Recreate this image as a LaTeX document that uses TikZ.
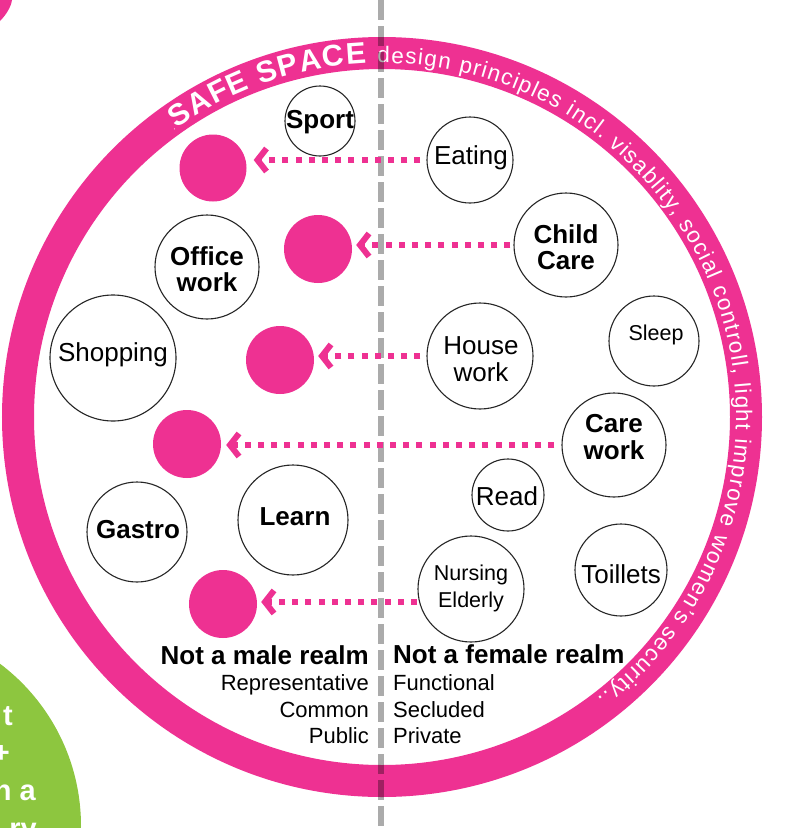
\documentclass[tikz,border=0pt]{standalone}
\usepackage{fontspec}
\setmainfont{Liberation Sans}
\usetikzlibrary{arrows.meta,decorations.text,calc}
\definecolor{pinkc}{RGB}{238,49,146}
\definecolor{greenc}{RGB}{141,198,63}
\begin{document}
\begin{tikzpicture}[x=1pt,y=1pt,
  act/.style={circle, draw=black!85, line width=1.1pt, fill=white, inner sep=0pt},
  pdot/.style={circle, fill=pinkc, inner sep=0pt, minimum size=68pt},
  lbl/.style={inner sep=0pt, align=center, font=\fontsize{26}{26.5}\selectfont},
  lblB/.style={inner sep=0pt, align=center, font=\bfseries\fontsize{26}{26.5}\selectfont},
  lblS/.style={inner sep=0pt, align=center, font=\fontsize{21.5}{27}\selectfont},
  realmB/.style={inner sep=0pt, font=\bfseries\fontsize{26}{26}\selectfont},
  realm/.style={inner sep=0pt, font=\fontsize{22}{22}\selectfont},
  greentxt/.style={inner sep=0pt, anchor=base east, text=white, font=\bfseries\fontsize{29}{29}\selectfont},
  dotarr/.style={pinkc, line width=6pt, dash pattern=on 6pt off 7.2pt, -{Straight Barb[length=9pt,width=23pt]}},
  dashline/.style={black, opacity=0.33, line width=6pt, dash pattern=on 20pt off 6pt}]
\useasboundingbox (0,0) rectangle (810,-828);
\fill[white] (0,0) rectangle (810,-828);
\clip (0,0) rectangle (810,-828);
% outer fragments
\fill[pinkc] (0,0) -- (12,0) .. controls (11,-7) and (6,-15) .. (0,-21) -- cycle;
\fill[greenc] (-122,-826) circle[radius=203pt];
\node[greentxt] (g1) at (13,-725) {t};
\node[greentxt] (g2) at (10,-762) {+};
\node[greentxt] (g3) at (36,-800) {n a};
\node[greentxt] (g4) at (37,-838) {ry};
% ring
\coordinate (C) at (382,-417);
\draw[pinkc, line width=32pt] (C) circle[radius=364pt];
\path[decorate, decoration={text along path, text color=white, text align=fit to path,
  text={|\fontsize{9}{9}\selectfont|.|\bfseries\fontsize{30}{30}\selectfont|SAFE SPACE |\mdseries\fontsize{22.5}{22.5}\selectfont|design principles incl. visablity, social controll, light improve women's security..}}]
  ($(C)+(126:354)$) arc[start angle=126, end angle=-52.5, radius=354pt];
% divider
\coordinate (dtop) at (381,0);
\coordinate (dbot) at (381,-828);
\draw[dashline] (dtop) -- (dbot);
% activity circles
\node[act, minimum size=70pt] (sport) at (320,-121) {};
\node[lblB] (sportT) at (320,-122) {Sport};
\node[act, minimum size=86pt] (eating) at (470,-160) {};
\node[lbl] (eatingT) at (471,-158) {Eating};
\node[act, minimum size=104pt] (child) at (566,-245) {};
\node[lblB] (childT) at (566,-247) {Child\\Care};
\node[act, minimum size=104pt] (office) at (207,-267) {};
\node[lblB] (officeT) at (207,-269) {Office\\work};
\node[act, minimum size=126pt] (shop) at (113,-358) {};
\node[lbl] (shopT) at (113,-355) {Shopping};
\node[act, minimum size=106pt] (house) at (480,-356) {};
\node[lbl] (houseT) at (481,-359) {House\\work};
\node[act, minimum size=90pt] (sleep) at (654,-341) {};
\node[lblS] (sleepT) at (656,-335) {Sleep};
\node[act, minimum size=104pt] (care) at (614,-445) {};
\node[lblB] (careT) at (614,-437) {Care\\work};
\node[act, minimum size=72pt] (read) at (508,-495) {};
\node[lbl] (readT) at (507,-496) {Read};
\node[act, minimum size=100pt] (gastro) at (137,-532) {};
\node[lblB] (gastroT) at (138,-530) {Gastro};
\node[act, minimum size=110pt] (learn) at (293,-520) {};
\node[lblB] (learnT) at (295,-517) {Learn};
\node[act, minimum size=106pt] (nursing) at (471,-589) {};
\node[lblS] (nursingT) at (471,-588) {Nursing\\Elderly};
\node[act, minimum size=92pt] (toil) at (621,-570) {};
\node[lbl] (toilT) at (621,-574) {Toillets};
% pink dots
\node[pdot, minimum size=67pt] (p1) at (213,-168) {};
\node[pdot] (p2) at (318,-249) {};
\node[pdot] (p3) at (280,-360) {};
\node[pdot] (p4) at (187,-444) {};
\node[pdot] (p5) at (223,-604) {};
% arrows
\draw[dotarr, shorten <=6pt, shorten >=7pt] (eating.west) -- (p1.east |- eating.west);
\draw[dotarr, shorten <=3pt, shorten >=4pt] (child.west) -- (p2.east |- child.west);
\draw[dotarr, shorten <=6pt, shorten >=4pt] (house.west) -- (p3.east |- house.west);
\draw[dotarr, shorten <=7pt, shorten >=5pt] (care.west) -- (p4.east |- care.west);
\draw[dotarr, shorten <=2pt, shorten >=4pt] (nursing.194) -- (p5.east |- nursing.194);
% realm texts
\node[realmB, anchor=base east] (male) at (369,-664) {Not a male realm};
\node[realm, anchor=base east] (rep) at (369,-690) {Representative};
\node[realm, anchor=base east] (common) at (369,-717) {Common};
\node[realm, anchor=base east] (public) at (369,-743) {Public};
\node[realmB, anchor=base west] (female) at (393,-663) {Not a female realm};
\node[realm, anchor=base west] (func) at (393,-690) {Functional};
\node[realm, anchor=base west] (secl) at (393,-717) {Secluded};
\node[realm, anchor=base west] (priv) at (393,-743) {Private};
\end{tikzpicture}
\end{document}
